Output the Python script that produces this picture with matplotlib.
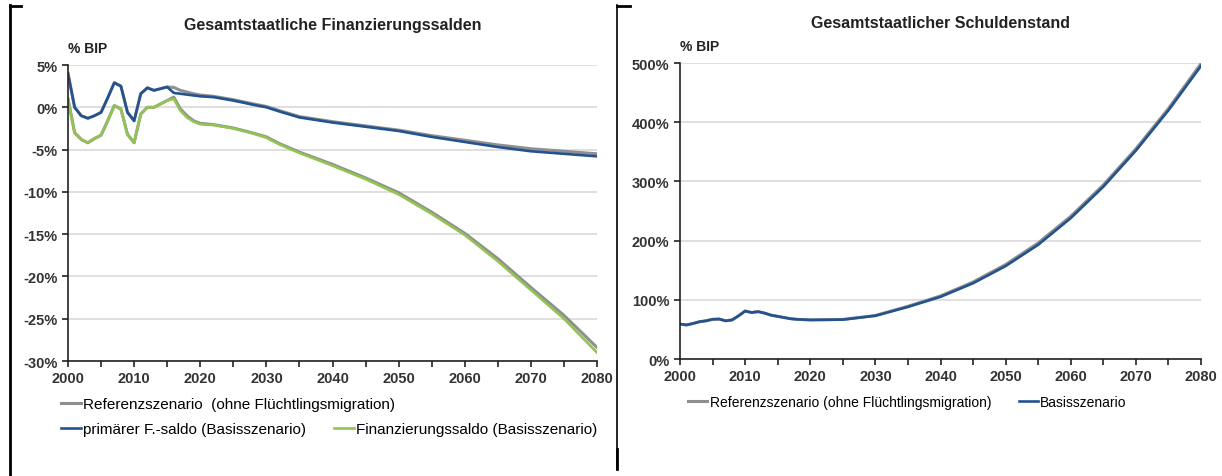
import matplotlib
matplotlib.use("Agg")
import matplotlib.pyplot as plt
from matplotlib.lines import Line2D
from matplotlib.ticker import MultipleLocator, FuncFormatter

plt.rcParams['font.family'] = ['Liberation Sans Narrow', 'Liberation Sans', 'DejaVu Sans']

# linkes Diagramm: Finanzierungssalden (% BIP)
years_l = [2000, 2001, 2002, 2003, 2004, 2005, 2006, 2007, 2008, 2009, 2010,
           2011, 2012, 2013, 2014, 2015, 2016, 2017, 2018, 2019, 2020, 2022,
           2025, 2028, 2030, 2032, 2035, 2040, 2045, 2050, 2055, 2060, 2065,
           2070, 2075, 2080]
prim_basis = [4.0, 0.0, -1.0, -1.3, -1.0, -0.6, 1.1, 2.9, 2.5, -0.6, -1.6,
              1.6, 2.3, 2.0, 2.2, 2.4, 1.7, 1.6, 1.5, 1.4, 1.3, 1.2,
              0.8, 0.3, 0.0, -0.5, -1.2, -1.8, -2.3, -2.8, -3.5, -4.1, -4.7,
              -5.2, -5.5, -5.8]
prim_ref = [4.0, 0.0, -1.0, -1.3, -1.0, -0.6, 1.1, 2.9, 2.5, -0.6, -1.6,
            1.6, 2.3, 2.0, 2.2, 2.4, 2.35, 2.0, 1.8, 1.6, 1.45, 1.3,
            0.9, 0.4, 0.1, -0.4, -1.1, -1.7, -2.2, -2.7, -3.35, -3.9, -4.45,
            -4.9, -5.2, -5.5]
fin_basis = [1.0, -3.0, -3.8, -4.2, -3.7, -3.3, -1.6, 0.2, -0.2, -3.2, -4.2,
             -0.8, 0.0, 0.0, 0.4, 0.8, 1.0, -0.4, -1.2, -1.7, -2.0, -2.1,
             -2.5, -3.1, -3.6, -4.4, -5.4, -6.9, -8.5, -10.3, -12.6, -15.1, -18.2,
             -21.6, -25.0, -29.0]
fin_ref = [1.0, -3.0, -3.8, -4.2, -3.7, -3.3, -1.6, 0.2, -0.2, -3.2, -4.2,
           -0.8, 0.0, 0.0, 0.4, 0.8, 1.2, -0.2, -1.0, -1.6, -1.9, -2.05,
           -2.45, -3.05, -3.5, -4.3, -5.3, -6.75, -8.35, -10.1, -12.4, -14.9, -17.9,
           -21.3, -24.6, -28.4]

# rechtes Diagramm: Schuldenstand (% BIP)
years_r = [2000, 2001, 2002, 2003, 2004, 2005, 2006, 2007, 2008, 2009, 2010,
           2011, 2012, 2013, 2014, 2015, 2016, 2017, 2018, 2019, 2020, 2025,
           2030, 2035, 2040, 2045, 2050, 2055, 2060, 2065, 2070, 2075, 2080]
debt_basis = [59, 57.5, 60, 63, 64.5, 67, 67.5, 64.5, 66, 73, 81,
              78.5, 80, 77.5, 74, 72, 70, 68, 67, 66.5, 66, 66.5,
              73, 88, 105, 128, 157, 193, 238, 291, 352, 420, 495]
debt_ref = [59, 57.5, 60, 63, 64.5, 67, 67.5, 64.5, 66, 73, 81,
            78.5, 80, 77.5, 74, 72, 70, 68, 67, 66.5, 66, 66.8,
            73.5, 89, 106.5, 130, 159.5, 196, 241, 294, 355, 423, 499]

blue = '#24528f'
green = '#92c353'
grey = '#8f8f8f'
txt = '#333333'

fig = plt.figure(figsize=(12.22, 4.77), dpi=100)
W, H = 1222.0, 477.0


def style_axes(ax):
    for s in ['top', 'right']:
        ax.spines[s].set_visible(False)
    ax.spines['left'].set_color('#222222')
    ax.spines['bottom'].set_color('#222222')
    ax.spines['left'].set_linewidth(1.2)
    ax.spines['bottom'].set_linewidth(1.2)
    ax.grid(axis='y', color='#d9d9d9', linewidth=1.2)
    ax.set_axisbelow(True)
    ax.set_xlim(2000, 2080)
    ax.xaxis.set_major_locator(MultipleLocator(10))
    ax.xaxis.set_minor_locator(MultipleLocator(5))
    ax.tick_params(axis='both', which='both', direction='out', length=4,
                   width=1.2, color='#222222', labelcolor=txt, labelsize=10.5)


# linkes Diagramm
ax1 = fig.add_axes([68 / W, 1 - 362 / H, (597 - 68) / W, (362 - 66) / H])
ax1.plot(years_l, prim_ref, color=grey, lw=2.2, label='Referenzszenario  (ohne Flüchtlingsmigration)')
ax1.plot(years_l, fin_ref, color=grey, lw=2.2)
ax1.plot(years_l, prim_basis, color=blue, lw=1.9, label='primärer F.-saldo (Basisszenario)')
ax1.plot(years_l, fin_basis, color=green, lw=1.9, label='Finanzierungssaldo (Basisszenario)')
ax1.set_ylim(-30, 5)
ax1.yaxis.set_major_locator(MultipleLocator(5))
ax1.yaxis.set_major_formatter(FuncFormatter(lambda v, p: f'{v:.0f}%'))
style_axes(ax1)
for lab in ax1.get_xticklabels() + ax1.get_yticklabels():
    lab.set_fontweight('bold')
ax1.set_title('Gesamtstaatliche Finanzierungssalden', fontsize=11.5, fontweight='bold',
              color='#222222', pad=26)
ax1.text(0.0, 1.035, '% BIP', transform=ax1.transAxes, fontsize=10, fontweight='bold',
         color='#222222', ha='left', va='bottom')

h1, l1 = ax1.get_legend_handles_labels()
fig.legend([h1[0]], [l1[0]], loc='upper left', bbox_to_anchor=(61 / W, 1 - 398 / H),
           frameon=False, fontsize=11, handlelength=1.3, handletextpad=0.15,
           borderaxespad=0, borderpad=0)
fig.legend(h1[1:], l1[1:], loc='upper left', bbox_to_anchor=(61 / W, 1 - 423 / H),
           frameon=False, fontsize=11, ncol=2, handlelength=1.3, handletextpad=0.15,
           columnspacing=1.8, borderaxespad=0, borderpad=0)

# rechtes Diagramm
ax2 = fig.add_axes([680 / W, 1 - 360 / H, (1201 - 680) / W, (360 - 64) / H])
ax2.plot(years_r, debt_ref, color=grey, lw=2.2, label='Referenzszenario (ohne Flüchtlingsmigration)')
ax2.plot(years_r, debt_basis, color=blue, lw=1.9, label='Basisszenario')
ax2.set_ylim(0, 500)
ax2.yaxis.set_major_locator(MultipleLocator(100))
ax2.yaxis.set_major_formatter(FuncFormatter(lambda v, p: f'{v:.0f}%'))
style_axes(ax2)
for lab in ax2.get_xticklabels() + ax2.get_yticklabels():
    lab.set_fontweight('bold')
ax2.set_title('Gesamtstaatlicher Schuldenstand', fontsize=11.5, fontweight='bold',
              color='#222222', pad=26)
ax2.text(0.0, 1.035, '% BIP', transform=ax2.transAxes, fontsize=10, fontweight='bold',
         color='#222222', ha='left', va='bottom')
ax2.legend(loc='upper left', bbox_to_anchor=(688 / W, 1 - 396 / H),
           bbox_transform=fig.transFigure, frameon=False, fontsize=10, ncol=2,
           handlelength=1.4, handletextpad=0.15, columnspacing=2.0,
           borderaxespad=0, borderpad=0)

# Rahmenlinien
def seg(x0, y0, x1, y1, lw=2.0):
    fig.add_artist(Line2D([x0 / W, x1 / W], [1 - y0 / H, 1 - y1 / H],
                          color='black', lw=lw, transform=fig.transFigure))

seg(10, 6, 10, 477)
seg(10, 7, 21, 7)
seg(617, 6, 617, 470, lw=1.2)
seg(617, 450, 617, 470, lw=2.0)
seg(617, 7, 630, 7)

fig.savefig('out.png', dpi=100)
